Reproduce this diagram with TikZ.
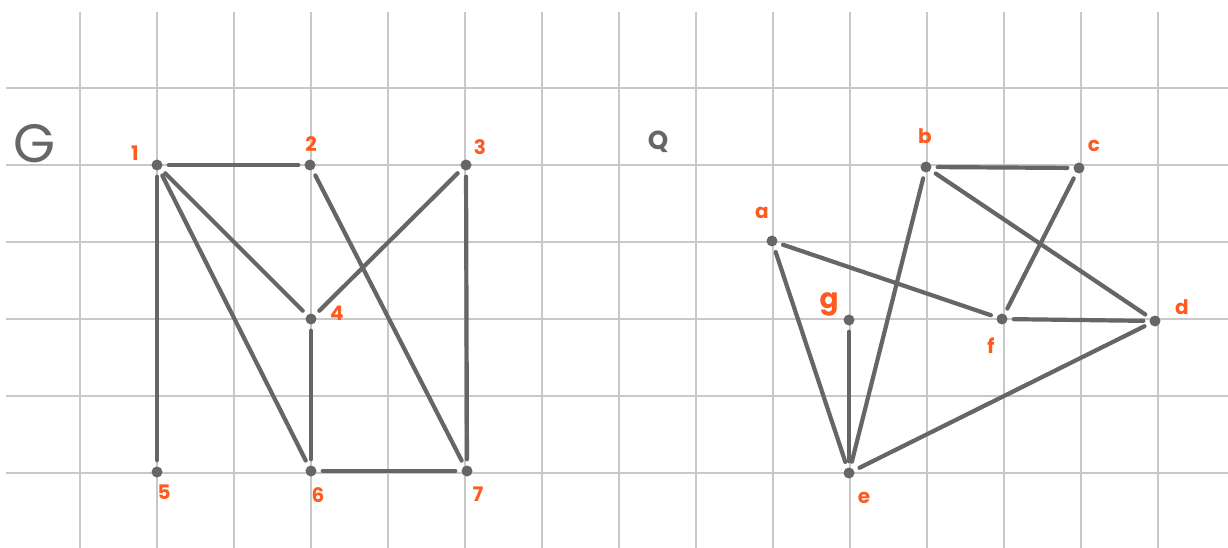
\documentclass[tikz,border=0pt]{standalone}
\usepackage{fontspec}
\setmainfont{Poppins}
\begin{document}
\begin{tikzpicture}[x=1pt,y=-1pt,
  grid/.style={draw=gridc,line width=1.5pt},
  vtx/.style={circle,fill=edgec,inner sep=0pt,minimum size=11pt},
  edge/.style={draw=edgec,line width=4.2pt,line cap=round,shorten <=6pt,shorten >=6pt},
  lbl/.style={text=labc,font=\fontsize{20}{20}\selectfont\bfseries,inner sep=0pt},
  ttl/.style={text=edgec,inner sep=0pt}]
\definecolor{gridc}{HTML}{C8C8C8}
\definecolor{edgec}{HTML}{666666}
\definecolor{labc}{HTML}{FF5A1F}
\useasboundingbox[fill=white] (0,0) rectangle (1228,548);
% grid
\foreach \x in {80,157,234,311,388,465,542,619,696,773,850,927,1004,1081,1158}
  \draw[grid] (\x,12) -- (\x,548);
\foreach \y in {88,165,242,319,396,473}
  \draw[grid] (6,\y) -- (1228,\y);
% titles
\node[ttl,font=\fontsize{54}{54}\selectfont] (G) at (35,144) {G};
\node[ttl,font=\fontsize{26}{26}\selectfont\bfseries] (Q) at (658,142) {Q};
% graph G
\node[vtx] (n1) at (157,165) {};
\node[vtx] (n2) at (310,165) {};
\node[vtx] (n3) at (466,165) {};
\node[vtx] (n4) at (311,319) {};
\node[vtx] (n5) at (157,472) {};
\node[vtx] (n6) at (311,471) {};
\node[vtx] (n7) at (467,471) {};
\node[lbl] (l1) at (135,153) {1};
\node[lbl] (l2) at (311,144) {2};
\node[lbl] (l3) at (480,147) {3};
\node[lbl] (l4) at (337,313) {4};
\node[lbl] (l5) at (164,492) {5};
\node[lbl] (l6) at (318,495) {6};
\node[lbl] (l7) at (478,494) {7};
\foreach \a/\b in {n1/n2,n1/n4,n1/n6,n1/n5,n2/n7,n3/n4,n3/n7,n4/n6,n6/n7}
  \draw[edge] (\a) -- (\b);
% graph Q
\node[vtx] (a) at (772,241) {};
\node[vtx] (b) at (926,167) {};
\node[vtx] (c) at (1079,168) {};
\node[vtx] (d) at (1155,321) {};
\node[vtx] (e) at (849,473) {};
\node[vtx] (f) at (1002,319) {};
\node[vtx] (g) at (849,320) {};
\node[lbl] (la) at (762,213) {a};
\node[lbl] (lb) at (925,136) {b};
\node[lbl] (lc) at (1094,146) {c};
\node[lbl] (ld) at (1182,307) {d};
\node[lbl] (le) at (864,498) {e};
\node[lbl] (lf) at (991,346) {f};
\node[lbl,font=\fontsize{28}{28}\selectfont\bfseries] (lg) at (829,304) {g};
\foreach \a/\b in {b/c,b/d,b/e,c/f,a/f,a/e,g/e,f/d,e/d}
  \draw[edge] (\a) -- (\b);
\end{tikzpicture}
\end{document}
